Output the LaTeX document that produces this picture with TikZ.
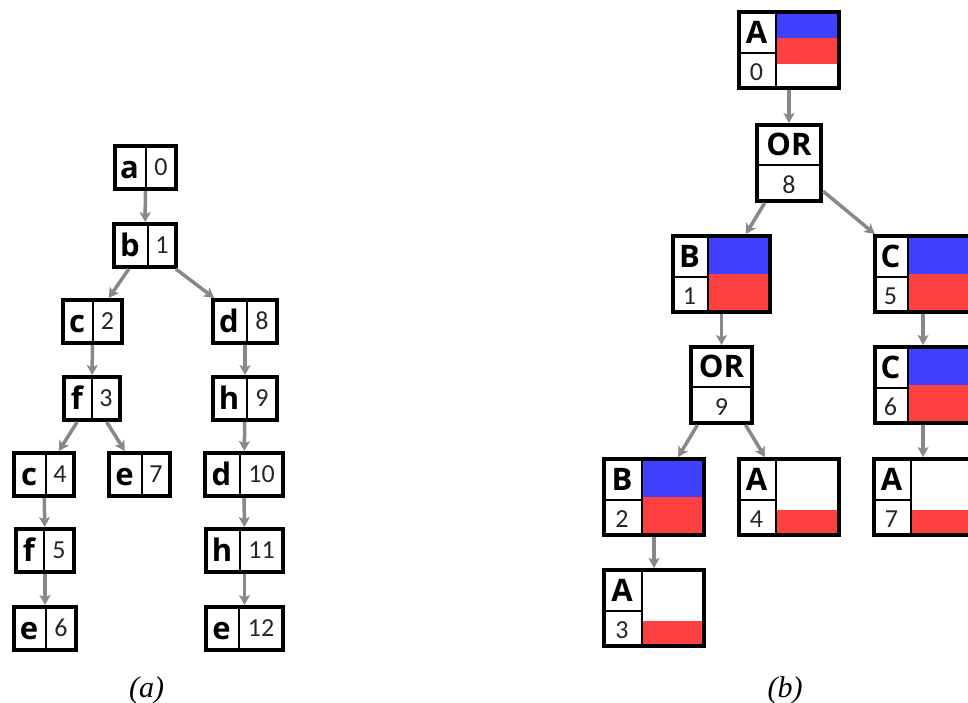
\documentclass[tikz,border=0pt]{standalone}
\usepackage{fontspec}
\setmainfont{Carlito}
\newfontfamily\boxfont{Open Sans}
\newfontfamily\capfont{Liberation Serif}
\usetikzlibrary{arrows.meta}
\definecolor{bblue}{RGB}{64,64,255}
\definecolor{rred}{RGB}{255,64,64}
\definecolor{egray}{RGB}{136,136,136}
\tikzset{
  frame/.style={draw=black, line width=4pt, inner sep=0pt, fill=none},
  divline/.style={draw=black, line width=1.5pt},
  bigletter/.style={inner sep=0pt, font=\boxfont\bfseries\fontsize{31}{36}\selectfont},
  rletter/.style={inner sep=0pt, font=\boxfont\bfseries\fontsize{31}{36}\selectfont},
  numtext/.style={inner sep=0pt, font=\fontsize{26}{30}\selectfont, text=black!85},
  captext/.style={inner sep=0pt, font=\capfont\itshape\fontsize{30}{36}\selectfont},
  edge/.style={draw=egray, line width=3.5pt, -{Stealth[length=10pt,width=11pt,inset=2.5pt]}}
}
% left box: name, x1, xdiv, x2, ytop, letter, number
\newcommand\lbox[7]{%
  \draw[divline] (#3,#5) -- (#3,#5+47);
  \node[frame, minimum width={#4-#2-4}, minimum height=43pt] (#1) at ({(#2+#4)/2},{#5+23.5}) {};
  \node[bigletter, anchor=base] (#1-l) at ({(#2+#3)/2},{#5+34}) {#6};
  \node[numtext, anchor=base] (#1-n) at ({(#3+#4)/2-1},{#5+31.5}) {#7};
}
% bands: xdiv, x2, ytop
\newcommand\bandH[3]{%
  \fill[bblue] (#1,#3) rectangle (#2,#3+40);
  \fill[rred] (#1,#3+40) rectangle (#2,#3+80);
}
\newcommand\bandA[3]{%
  \fill[bblue] (#1,#3) rectangle (#2,#3+28);
  \fill[rred] (#1,#3+28) rectangle (#2,#3+53.5);
}
\newcommand\bandW[3]{%
  \fill[rred] (#1,#3+52.5) rectangle (#2,#3+80);
}
% right box: name, x1, xdiv, x2, ytop, letter, number, band
\newcommand\rbox[8]{%
  #8{#3}{#4}{#5}
  \draw[divline] (#3,#5) -- (#3,#5+80);
  \draw[divline] (#2,#5+43) -- (#3,#5+43);
  \node[frame, minimum width={#4-#2-4}, minimum height=76pt] (#1) at ({(#2+#4)/2},{#5+40}) {};
  \node[rletter, anchor=base] (#1-l) at ({(#2+#3)/2},{#5+33.5}) {#6};
  \node[numtext, anchor=base] (#1-n) at ({(#2+#3)/2},{#5+70}) {#7};
}
% OR box: name, x1, x2, ytop, number
\newcommand\orbox[5]{%
  \draw[divline] (#2,#4+42) -- (#3,#4+42);
  \node[frame, minimum width={#3-#2-4}, minimum height=76pt] (#1) at ({(#2+#3)/2},{#4+40}) {};
  \node[rletter, anchor=base] (#1-l) at ({(#2+#3)/2},{#4+32}) {OR};
  \node[numtext, anchor=base] (#1-n) at ({(#2+#3)/2},{#4+70}) {#5};
}
\begin{document}
\begin{tikzpicture}[x=1pt,y=-1pt]
\useasboundingbox (0,0) rectangle (968,702);
\clip (0,0) rectangle (968,702);
\fill[white] (0,0) rectangle (968,702);
% ---------- tree (a) ----------
\lbox{a}{113}{146}{178}{144}{a}{0}
\lbox{b}{112}{148}{178}{222}{b}{1}
\lbox{c2}{61}{93}{124}{298}{c}{2}
\lbox{d8}{211}{247}{279}{298}{d}{8}
\lbox{f3}{62}{92}{122}{375}{f}{3}
\lbox{h9}{211}{247}{279}{375}{h}{9}
\lbox{c4}{12}{46}{76}{451}{c}{4}
\lbox{e7}{107}{142}{172}{451}{e}{7}
\lbox{d10}{203}{240}{285}{451}{d}{10}
\lbox{f5}{14}{44}{76}{527}{f}{5}
\lbox{h11}{204}{240}{285}{527}{h}{11}
\lbox{e6}{12}{46}{78}{605}{e}{6}
\lbox{e12}{204}{239}{285}{605}{e}{12}
\draw[edge] (a) -- (b);
\draw[edge] (b) -- (c2);
\draw[edge] (b) -- (d8);
\draw[edge] (c2) -- (f3);
\draw[edge] (f3) -- (c4);
\draw[edge] (f3) -- (e7);
\draw[edge] (c4) -- (f5);
\draw[edge] (f5) -- (e6);
\draw[edge] (d8) -- (h9);
\draw[edge] (h9) -- (d10);
\draw[edge] (d10) -- (h11);
\draw[edge] (h11) -- (e12);
% ---------- tree (b) ----------
\rbox{A0}{737}{776}{841}{10}{A}{0}{\bandA}
\orbox{OR8}{755}{823}{123}{8}
\rbox{B1}{671}{708}{772}{234}{B}{1}{\bandH}
\rbox{C5}{873}{908}{973}{234}{C}{5}{\bandH}
\orbox{OR9}{689}{754}{345}{9}
\rbox{C6}{873}{908}{973}{345}{C}{6}{\bandH}
\rbox{B2}{602}{642}{706}{457}{B}{2}{\bandH}
\rbox{A4}{737}{776}{841}{457}{A}{4}{\bandW}
\rbox{A7}{872}{911}{974}{457}{A}{7}{\bandW}
\rbox{A3}{602}{642}{706}{568}{A}{3}{\bandW}
\draw[edge] (A0) -- (OR8);
\draw[edge] (OR8) -- (B1);
\draw[edge] (OR8) -- (C5);
\draw[edge] (B1) -- (OR9);
\draw[edge] (OR9) -- (B2);
\draw[edge] (OR9) -- (A4);
\draw[edge] (B2) -- (A3);
\draw[edge] (C5) -- (C6);
\draw[edge] (C6) -- (A7);
% captions
\node[captext, anchor=base] (capa) at (146.5,697) {(a)};
\node[captext, anchor=base] (capb) at (785,697) {(b)};
\end{tikzpicture}
\end{document}
